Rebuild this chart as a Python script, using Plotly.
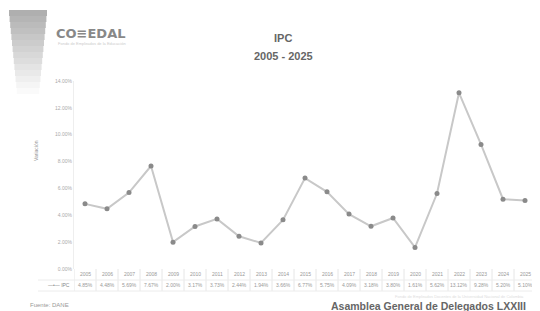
import plotly.graph_objects as go

years = [str(y) for y in range(2005, 2026)]
ipc = [4.85, 4.48, 5.69, 7.67, 2.00, 3.17, 3.73, 2.44, 1.94, 3.66, 6.77,
       5.75, 4.09, 3.18, 3.80, 1.61, 5.62, 13.12, 9.28, 5.20, 5.10]
y_ticks = [0, 2, 4, 6, 8, 10, 12, 14]
y_tick_text = ["0.00%", "2.00%", "4.00%", "6.00%", "8.00%", "10.00%", "12.00%", "14.00%"]

OFF = 8            # page body margin
W, H = 540 - OFF, 311 - OFF
PL, PR, PT, PB = 74, 536, 81, 269   # plot area in screen px


def px(x):
    return (x - PL) / (PR - PL)


def py(y):
    return (PB - y) / (PB - PT)


def note(x, y, text, size, color, xanchor="center", angle=0, family=None, xref="paper"):
    f = dict(size=size, color=color)
    if family:
        f["family"] = family
    fig.add_annotation(x=x, y=py(y), xref=xref, yref="paper", text=text,
                       showarrow=False, xanchor=xanchor, yanchor="middle",
                       textangle=angle, font=f)


fig = go.Figure()
fig.add_trace(go.Scatter(
    x=list(range(len(years))), y=ipc, mode="lines+markers", name="IPC",
    line=dict(color="#c8c8c8", width=2),
    marker=dict(color="#8a8a8a", size=5),
    showlegend=False,
))

fig.update_layout(
    width=W, height=H, autosize=False,
    margin=dict(l=PL - OFF, r=W - (PR - OFF), t=PT - OFF, b=H - (PB - OFF), pad=0),
    paper_bgcolor="white", plot_bgcolor="white",
    font=dict(family="Liberation Sans, Arial", color="#999"),
    xaxis=dict(range=[-0.5, 20.5], showticklabels=False,
               showgrid=False, zeroline=False, showline=False),
    yaxis=dict(range=[0, 14], tickvals=y_ticks, ticktext=y_tick_text,
               tickfont=dict(size=5, color="#aaa"), showgrid=False,
               zeroline=False, showline=True, linecolor="#eee",
               ticklen=0),
)

# table rows under plot
for i, (yr, v) in enumerate(zip(years, ipc)):
    note(i, 274, yr, 5, "#999", xref="x")
    note(i, 285, f"{v:.2f}%", 5, "#999", xref="x")
    fig.add_shape(type="line", xref="x", yref="paper",
                  x0=i - 0.5, x1=i - 0.5, y0=py(269), y1=py(291),
                  line=dict(color="#e6e6e6", width=1))
fig.add_shape(type="line", xref="x", yref="paper", x0=20.5, x1=20.5,
              y0=py(269), y1=py(291), line=dict(color="#e6e6e6", width=1))
fig.add_shape(type="line", xref="paper", yref="paper", x0=px(38), x1=1,
              y0=py(280), y1=py(280), line=dict(color="#ececec", width=1))
fig.add_shape(type="line", xref="paper", yref="paper", x0=px(38), x1=1,
              y0=py(291), y1=py(291), line=dict(color="#ececec", width=1))
note(px(72), 285, "—•— IPC", 5, "#888", xanchor="right")

# axis title
note(px(36), 151, "Variación", 5, "#999", angle=-90)

# titles
note(px(283), 38, "<b>IPC</b>", 11, "#666")
note(px(283), 56, "<b>2005 - 2025</b>", 11, "#666")

# logo: fading gradient block
for k in range(14):
    y0 = 10 + k * 6
    a = max(0.0, 0.55 - k * 0.04)
    fig.add_shape(type="rect", xref="paper", yref="paper",
                  x0=px(9 + k * 0.6), x1=px(47 - k * 0.6), y0=py(y0), y1=py(y0 + 6),
                  fillcolor=f"rgba(110,110,110,{a:.2f})", line=dict(width=0), layer="below")
note(px(54), 33, "<b>CO≡EDAL</b>", 13, "#888", xanchor="left", family="DejaVu Sans")
note(px(56), 44, "Fondo de Empleados de la Educación", 4, "#ccc", xanchor="left")

# footer
note(px(28), 305, "Fuente: DANE", 6, "#999", xanchor="left")
note(px(526), 296, "Fondo de Empleados Docentes de la Universidad Nacional de Colombia",
     4, "#ddd", xanchor="right")
note(px(528), 306, "<b>Asamblea General de Delegados LXXIII</b>", 10.5, "#666", xanchor="right")

fig.write_html("out.html")
